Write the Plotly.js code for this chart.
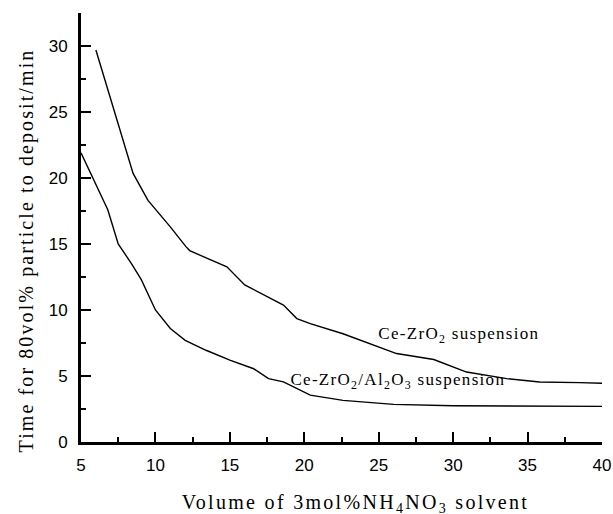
<!DOCTYPE html>
<html>
<head>
<meta charset="utf-8">
<script src="https://cdn.plot.ly/plotly-3.0.1.min.js"></script>
<style>
html,body{margin:0;padding:0;background:#fff;}
#chart{width:613px;height:514px;}
#chart .annotation-text{letter-spacing:1.3px;}
#chart g.annotation[data-index="2"] .annotation-text{letter-spacing:2.3px;}
#chart g.annotation[data-index="3"] .annotation-text{letter-spacing:2.1px;}
</style>
</head>
<body>
<div id="chart"></div>
<script>
// Ce-ZrO2 suspension
const ceZrX = [6, 8.5, 9.5, 11, 12.05, 12.3, 13.6, 14.8, 16, 17.5, 18.6, 19.5, 20.4, 22.6, 26.2, 28.7, 30.9, 33.6, 35.8, 38.5, 40];
const ceZrY = [29.7, 20.35, 18.3, 16.3, 14.8, 14.5, 13.85, 13.27, 11.9, 11.0, 10.37, 9.35, 8.97, 8.2, 6.7, 6.25, 5.3, 4.8, 4.55, 4.5, 4.45];
// Ce-ZrO2/Al2O3 suspension
const ceZrAlX = [5, 6.8, 7.5, 8.4, 9.05, 10, 11, 12, 13.4, 15, 16.6, 17.6, 18.6, 19.7, 20.4, 22.6, 26, 30, 33, 40];
const ceZrAlY = [21.9, 17.6, 15.0, 13.5, 12.3, 10.0, 8.6, 7.7, 6.95, 6.2, 5.55, 4.8, 4.55, 3.9, 3.55, 3.15, 2.85, 2.75, 2.73, 2.7];

const seriesLabels = ['Ce-ZrO<sub>2</sub> suspension', 'Ce-ZrO<sub>2</sub>/Al<sub>2</sub>O<sub>3</sub> suspension'];
const xTitle = 'Volume of 3mol%NH<sub>4</sub>NO<sub>3</sub> solvent';
const yTitle = 'Time for 80vol% particle to deposit/min';

const serif = 'Liberation Serif, Times New Roman, serif';
const sans = 'Liberation Sans, Arial, sans-serif';

const traces = [
  {x: ceZrX, y: ceZrY, mode: 'lines', line: {color: '#000', width: 1.4}, name: seriesLabels[0]},
  {x: ceZrAlX, y: ceZrAlY, mode: 'lines', line: {color: '#000', width: 1.4}, name: seriesLabels[1]}
];

const axisCommon = {
  showline: true, linecolor: '#000', linewidth: 3,
  showgrid: false, zeroline: false,
  ticks: 'inside', tickcolor: '#000', tickwidth: 2, ticklen: 10,
  tickfont: {family: sans, size: 17, color: '#000'},
  dtick: 5,
  minor: {dtick: 2.5, ticks: 'inside', ticklen: 5, tickwidth: 2, tickcolor: '#000', showgrid: false}
};

const layout = {
  width: 613, height: 514,
  margin: {l: 81, r: 11, t: 13, b: 72},
  paper_bgcolor: '#fff', plot_bgcolor: '#fff',
  showlegend: false,
  xaxis: Object.assign({}, axisCommon, {range: [5, 40], tick0: 5, ticklabelstandoff: 6}),
  yaxis: Object.assign({}, axisCommon, {range: [0, 32.5], tick0: 0, ticklabelstandoff: 7}),
  annotations: [
    {text: seriesLabels[0], x: 30.4, y: 8.1, xref: 'x', yref: 'y', showarrow: false,
     font: {family: serif, size: 17, color: '#000'}, xanchor: 'center', yanchor: 'middle'},
    {text: seriesLabels[1], x: 26.3, y: 4.6, xref: 'x', yref: 'y', showarrow: false,
     font: {family: serif, size: 17, color: '#000'}, xanchor: 'center', yanchor: 'middle'},
    {text: xTitle, x: 0.526, y: -0.143, xref: 'paper', yref: 'paper', showarrow: false,
     font: {family: serif, size: 20, color: '#000'}, xanchor: 'center', yanchor: 'middle'},
    {text: yTitle, x: -0.105, y: 0.447, xref: 'paper', yref: 'paper', showarrow: false, textangle: -90,
     font: {family: serif, size: 20, color: '#000'}, xanchor: 'center', yanchor: 'middle'}
  ]
};

Plotly.newPlot('chart', traces, layout, {displayModeBar: false, staticPlot: true});
</script>
</body>
</html>
